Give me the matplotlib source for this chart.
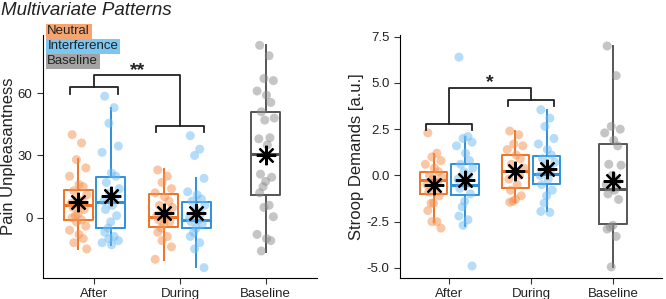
import matplotlib
matplotlib.use("Agg")
import matplotlib.pyplot as plt

plt.rcParams['font.family'] = ['Liberation Sans', 'DejaVu Sans']

categories = ["After", "During", "Baseline"]

# ---- Pain unpleasantness (left panel): raw points
pain_after_neutral = [40, 36, 28, 24, 20, 16, 15, 13, 11, 9, 8, 7, 6, 5, 4, 2, 1, 0,
                      -1, -2, -4, -6, -8, -10, -12, -15]
pain_after_interf = [58.5, 53, 45.5, 34.5, 31.5, 21.5, 20, 17, 14, 12, 10, 8, 6, 4, 1,
                     -2, -5, -7, -9, -10, -11, -12, -13]
pain_during_neutral = [23, 20, 17, 14, 12, 10, 8, 6, 5, 3, 2, 1, 0, -1, -2, -3, -5, -7,
                       -9, -11, -14, -20]
pain_during_interf = [39.5, 33, 30, 19, 12.5, 11, 9, 8, 6, 4, 2, 0, -1, -2, -3, -5, -7,
                      -9, -12, -15, -24]
pain_baseline = [83, 78, 67, 66, 61, 59, 55.5, 51, 48, 47, 38.5, 38, 35, 21, 19.5, 17.5,
                 15, 12, 6, 5, 0.5, -8, -10, -11, -16]

# box stats: q1, median, q3, whisker low, whisker high, mean
pain_q1 = [-1.1, -4.8, -4.3, -5.0, 11.0]
pain_med = [6.1, 7.7, 0.5, -1.1, 30.8]
pain_q3 = [13.3, 19.8, 11.3, 7.4, 50.7]
pain_lo = [-14.8, -13.2, -20.4, -23.7, -16.4]
pain_hi = [28.2, 52.8, 23.4, 19.3, 83]
pain_mean = [7.7, 10.5, 2.1, 2.4, 30.0]

# ---- Stroop demands (right panel): raw points
stroop_after_neutral = [2.3, 1.2, 1.0, 0.8, 0.6, 0.4, 0.2, 0.0, -0.1, -0.2, -0.4, -0.5,
                        -0.7, -0.9, -1.1, -1.5, -1.5, -1.9, -2.5, -2.5, -2.85]
stroop_after_interf = [6.4, 2.1, 2.0, 1.8, 1.6, 1.2, 0.8, 0.6, 0.4, 0.2, 0.0, -0.2, -0.5,
                       -0.7, -1.0, -1.4, -1.7, -2.2, -2.4, -2.7, -4.9]
stroop_during_neutral = [2.4, 2.2, 1.7, 1.6, 1.4, 1.1, 0.9, 0.6, 0.4, 0.2, 0.0, -0.2,
                         -0.5, -0.8, -1.1, -1.3, -1.4, -1.45]
stroop_during_interf = [3.55, 3.1, 2.65, 2.0, 1.7, 1.4, 1.1, 0.9, 0.7, 0.5, 0.3, 0.0,
                        -0.2, -0.5, -0.8, -1.1, -1.5, -1.95, -2.0]
stroop_baseline = [7.0, 5.4, 2.65, 2.5, 2.3, 1.9, 1.6, 0.6, 0.55, 0.0, -0.3, -0.5, -0.8,
                   -1.0, -1.3, -2.7, -2.8, -2.9, -3.3, -4.95]

stroop_q1 = [-1.0, -1.08, -0.68, -0.47, -2.61]
stroop_med = [-0.23, -0.5, 0.22, 0.09, -0.72]
stroop_q3 = [0.16, 0.62, 1.08, 1.06, 1.7]
stroop_lo = [-2.5, -2.75, -1.46, -1.95, -4.95]
stroop_hi = [1.17, 2.1, 2.38, 3.55, 7.0]
stroop_mean = [-0.5, -0.23, 0.25, 0.36, -0.32]

# fixed jitter pattern for the dots
jitter = [-0.07, 0.04, -0.02, 0.09, -0.1, 0.01, 0.06, -0.05, 0.1, -0.01, 0.05,
          -0.08, 0.02, -0.06, 0.07, 0.0, -0.03]

orange = "#EE7326"
blue = "#2E8FDB"
grey = "#555555"
dot_colors = ["#F4914E", "#6DBBF2", "#8C8C8C"]

positions = [0.81, 1.19, 1.81, 2.19, 3.0]
line_colors = [orange, blue, orange, blue, grey]
dot_idx = [0, 1, 0, 1, 2]


def draw_panel(ax, groups, q1, med, q3, lo, hi, means):
    for i, vals in enumerate(groups):
        xs = [positions[i] + jitter[k % len(jitter)] for k in range(len(vals))]
        ax.scatter(xs, vals, s=42, color=dot_colors[dot_idx[i]], alpha=0.5,
                   edgecolor="none", zorder=3)
    stats = [dict(q1=q1[i], med=med[i], q3=q3[i], whislo=lo[i], whishi=hi[i],
                  fliers=[]) for i in range(len(q1))]
    bp = ax.bxp(stats, positions=positions, widths=0.34, showcaps=False,
                showfliers=False, patch_artist=False, manage_ticks=False)
    for i in range(len(stats)):
        c = line_colors[i]
        bp["boxes"][i].set(color=c, linewidth=1.4)
        bp["medians"][i].set(color=c, linewidth=2.2)
        bp["whiskers"][2 * i].set(color=c, linewidth=1.4)
        bp["whiskers"][2 * i + 1].set(color=c, linewidth=1.4)
    ax.plot(positions, means, linestyle="none", marker=(8, 2, 0), markersize=14,
            markeredgewidth=1.6, color="black", zorder=5)
    ax.set_xticks([1, 2, 3])
    ax.set_xticklabels(categories)
    ax.set_xlim(0.4, 3.6)
    for s in ["top", "right"]:
        ax.spines[s].set_visible(False)
    ax.tick_params(labelsize=9.5, length=4, colors="#333333", labelcolor="#222222")


def bracket(ax, y_after, y_during, y_top, drop, label, text_y):
    kw = dict(color="#222222", linewidth=1.3, zorder=4)
    ax.plot([0.72, 0.72, 1.28, 1.28], [y_after - drop, y_after, y_after, y_after - drop], **kw)
    ax.plot([1.72, 1.72, 2.28, 2.28], [y_during - drop, y_during, y_during, y_during - drop], **kw)
    ax.plot([1.0, 1.0, 2.0, 2.0], [y_after, y_top, y_top, y_during], **kw)
    ax.text(1.5, text_y, label, ha="center", va="center", fontsize=14,
            fontweight="bold", color="#222222")


fig = plt.figure(figsize=(6.66, 2.99), dpi=100)
ax1 = fig.add_axes([0.0646, 0.0702, 0.4114, 0.813])
ax2 = fig.add_axes([0.6006, 0.0702, 0.3934, 0.813])

draw_panel(ax1, [pain_after_neutral, pain_after_interf, pain_during_neutral,
                 pain_during_interf, pain_baseline],
           pain_q1, pain_med, pain_q3, pain_lo, pain_hi, pain_mean)
ax1.set_ylim(-29, 88)
ax1.set_yticks([0, 30, 60])
ax1.set_ylabel("Pain Unpleasantness", fontsize=12, color="#222222", labelpad=1)
bracket(ax1, 63, 44.3, 68.6, 3.2, "**", 71)

draw_panel(ax2, [stroop_after_neutral, stroop_after_interf, stroop_during_neutral,
                 stroop_during_interf, stroop_baseline],
           stroop_q1, stroop_med, stroop_q3, stroop_lo, stroop_hi, stroop_mean)
ax2.set_ylim(-5.55, 7.6)
ax2.set_yticks([-5.0, -2.5, 0.0, 2.5, 5.0, 7.5])
ax2.set_yticklabels(["-5.0", "-2.5", "0.0", "2.5", "5.0", "7.5"])
ax2.set_ylabel("Stroop Demands [a.u.]", fontsize=12, color="#222222", labelpad=2)
bracket(ax2, 2.79, 4.09, 4.72, 0.36, "*", 5.0)

# title and colour key
fig.text(0.002, 0.965, "Multivariate Patterns", fontsize=13.5, style="italic",
         ha="left", va="center", color="#222222")
key_labels = ["Neutral", "Interference", "Baseline"]
key_colors = ["#F5A472", "#7CC6F2", "#A3A3A3"]
for i, (lab, col) in enumerate(zip(key_labels, key_colors)):
    fig.text(0.071, 0.895 - i * 0.05, lab, fontsize=9.5, color="#222222",
             ha="left", va="center",
             bbox=dict(facecolor=col, edgecolor="none", pad=1.2))

fig.savefig("out.png", dpi=100)
